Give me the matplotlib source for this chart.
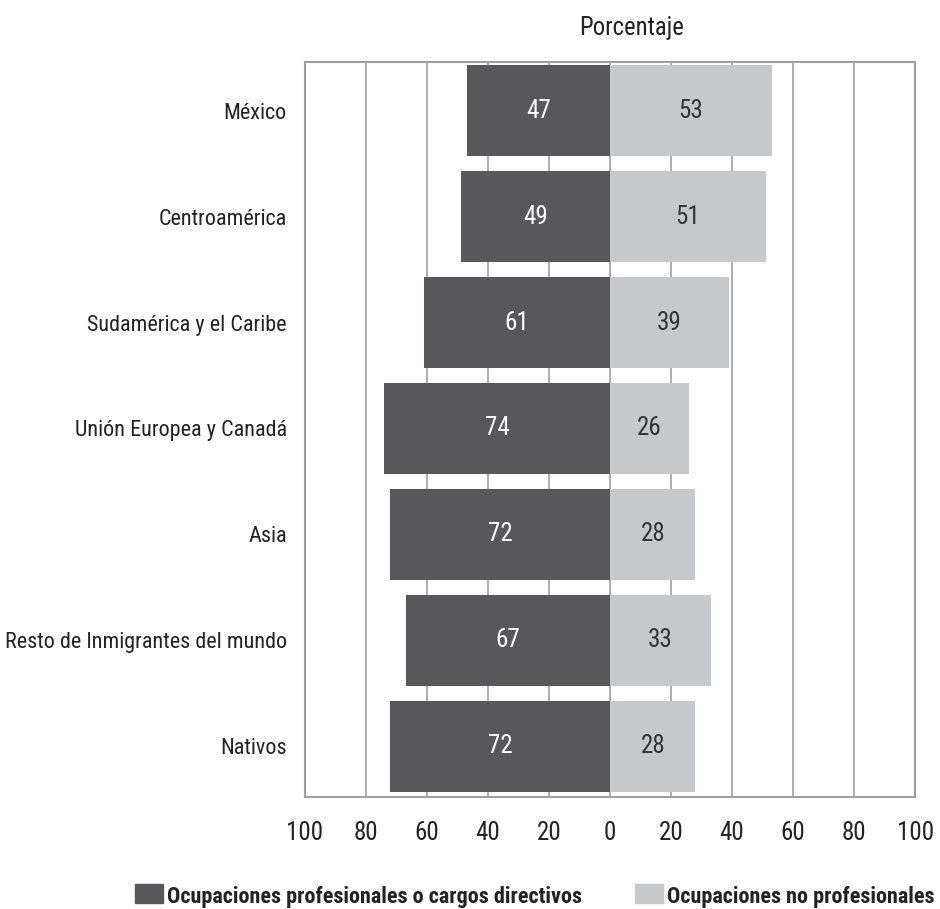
import matplotlib.pyplot as plt
from matplotlib import font_manager as fm
import numpy as np

# buscar una fuente estrecha si existe
nombres = {f.name for f in fm.fontManager.ttflist}
estirar = "normal"
if "Roboto Condensed" in nombres:
    fuente = "Roboto Condensed"
elif "Liberation Sans Narrow" in nombres:
    fuente = "Liberation Sans Narrow"
elif any(f.name == "DejaVu Sans" and "ondensed" in f.fname for f in fm.fontManager.ttflist):
    fuente = "DejaVu Sans"
    estirar = "condensed"
else:
    fuente = "Liberation Sans"
plt.rcParams['font.family'] = [fuente, 'DejaVu Sans']
plt.rcParams['font.stretch'] = estirar

# datos (porcentaje)
regiones = ["México", "Centroamérica", "Sudamérica y el Caribe",
            "Unión Europea y Canadá", "Asia",
            "Resto de Inmigrantes del mundo", "Nativos"]
profesionales = [47, 49, 61, 74, 72, 67, 72]
no_profesionales = [53, 51, 39, 26, 28, 33, 28]
ticks = [-100, -80, -60, -40, -20, 0, 20, 40, 60, 80, 100]
tick_labels = ["100", "80", "60", "40", "20", "0", "20", "40", "60", "80", "100"]
leyenda = ["Ocupaciones profesionales o cargos directivos", "Ocupaciones no profesionales"]

oscuro = "#58585a"
claro = "#c7c8ca"
texto = "#222222"

fig = plt.figure(figsize=(9.4, 9.09), dpi=100)
rend = fig.canvas.get_renderer()


def tam(cadena, ancho, **kw):
    # tamaño de letra para que el texto mida 'ancho' pixeles
    t = fig.text(0, 0, cadena, fontsize=10, **kw)
    w = t.get_window_extent(rend).width
    t.remove()
    return 10 * ancho / w


t_cat = min(tam("Resto de Inmigrantes del mundo", 280), 20)
t_dig = 18
t_tit = min(tam("Porcentaje", 104), 20)
t_ley = min(tam(leyenda[0], 415, fontweight="bold"), 22)

ax = fig.add_axes([0.3245, 0.1232, 0.649, 0.8086])

y = np.arange(len(regiones))
ax.barh(y, [-p for p in profesionales], height=0.86, color=oscuro, zorder=2)
ax.barh(y, no_profesionales, height=0.86, color=claro, zorder=2)

for i in range(len(regiones)):
    ax.text(-profesionales[i] / 2, y[i], str(profesionales[i]), color="white",
            ha="center", va="center", fontsize=t_dig)
    ax.text(no_profesionales[i] / 2, y[i], str(no_profesionales[i]), color="#333333",
            ha="center", va="center", fontsize=t_dig)

ax.set_xlim(-100, 100)
ax.set_ylim(6.48, -0.46)
ax.set_xticks(ticks)
ax.set_xticklabels(tick_labels, fontsize=t_dig)
ax.set_yticks(y)
ax.set_yticklabels(regiones, fontsize=t_cat, color=texto)
ax.tick_params(axis="x", length=0, pad=17, colors=texto)
ax.tick_params(axis="y", length=0, pad=13)
ax.grid(axis="x", color="#a0a0a0", lw=1.2, zorder=0)
for s in ax.spines.values():
    s.set_color("#a0a0a0")
    s.set_linewidth(1.5)

fig.text(632 / 940, 1 - 35 / 909, "Porcentaje", ha="center", va="baseline",
         fontsize=t_tit, color=texto)

# leyenda
fig.patches.append(plt.Rectangle((135 / 940, 1 - 903 / 909), 28 / 940, 19 / 909,
                                 color=oscuro, transform=fig.transFigure, figure=fig))
fig.text(167 / 940, 1 - 903 / 909, leyenda[0], va="baseline", fontsize=t_ley,
         fontweight="bold", color=texto)
fig.patches.append(plt.Rectangle((635 / 940, 1 - 903 / 909), 28 / 940, 19 / 909,
                                 color=claro, transform=fig.transFigure, figure=fig))
fig.text(667 / 940, 1 - 903 / 909, leyenda[1], va="baseline", fontsize=t_ley,
         fontweight="bold", color=texto)

fig.savefig("out.png", dpi=100)
